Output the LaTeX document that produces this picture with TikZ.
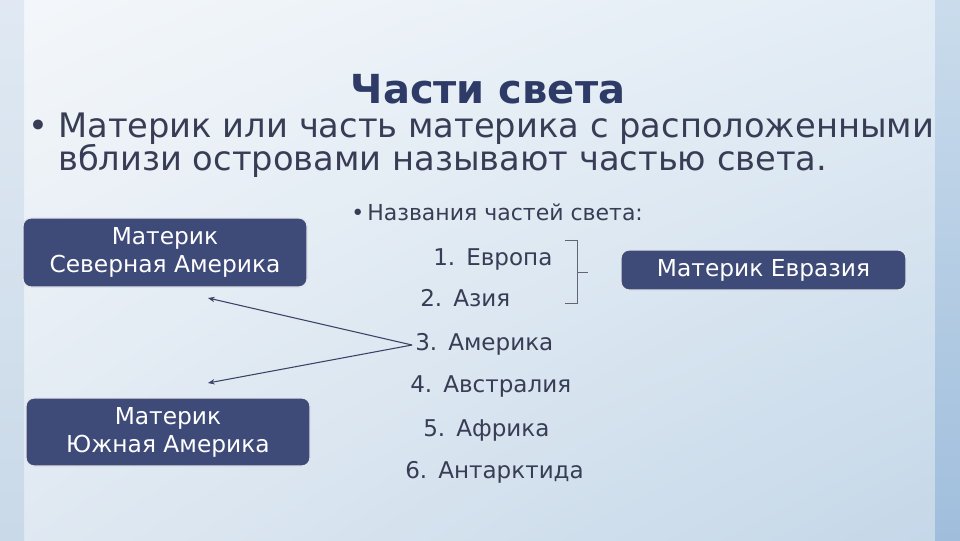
\documentclass[tikz,border=0pt]{standalone}
\usepackage{fontspec}
\setmainfont{DejaVu Sans}
\usetikzlibrary{arrows.meta,shadings}
\definecolor{txt}{HTML}{383D55}
\definecolor{ttl}{HTML}{2E3B66}
\definecolor{boxfill}{HTML}{3E4A78}
\definecolor{arr}{HTML}{3A4266}
\definecolor{bgul}{HTML}{F4F7FA}
\definecolor{bgur}{HTML}{E2ECF5}
\definecolor{bgll}{HTML}{E0E9F2}
\definecolor{bglr}{HTML}{C4D7E8}
\definecolor{lstt}{HTML}{E0E9F3}
\definecolor{lstb}{HTML}{C9D9E8}
\definecolor{rstt}{HTML}{CADCEC}
\definecolor{rstb}{HTML}{A0BEDC}
\tikzset{
  body/.style={anchor=base west, inner sep=0pt, text=txt, font=\fontsize{25.3}{25.3}\selectfont},
  sub/.style={anchor=base west, inner sep=0pt, text=txt, font=\fontsize{16.5}{16.5}\selectfont},
  item/.style={anchor=base west, inner sep=0pt, text=txt, font=\fontsize{17.3}{17.3}\selectfont},
  mbox/.style={draw=white!85!boxfill, line width=1pt, fill=boxfill, rounded corners=6pt, text=white, align=center, inner sep=0pt, font=\fontsize{17.5}{21}\selectfont},
  link/.style={draw=arr, line width=0.8pt, -{Stealth[length=5pt,width=4pt]}},
  brk/.style={draw=txt!80, line width=0.7pt}
}
\begin{document}
\begin{tikzpicture}[x=0.75pt,y=-0.75pt]
\useasboundingbox (0,0) rectangle (960,540);
% background
\shade[upper left=bgul, upper right=bgur, lower left=bgll, lower right=bglr] (0,0) rectangle (960,540);
\shade[top color=lstt, bottom color=lstb] (0,0) rectangle (24,540);
\shade[top color=rstt, bottom color=rstb] (935,0) rectangle (960,540);
% title
\node[anchor=base, inner sep=0pt, text=ttl, font=\bfseries\fontsize{30}{30}\selectfont] (title) at (488,103) {Части света};
% main text
\node[body] (b1) at (28,137) {•};
\node[body] (l1) at (58,137) {Материк или часть материка с расположенными};
\node[body] (l2) at (58,170) {вблизи островами называют частью света.};
% sub bullet
\node[sub] (b2) at (351,220) {•};
\node[sub] (s1) at (367,220) {Названия частей света:};
% list
\node[item] (n1) at (433,265) {1.}; \node[item] (i1) at (466,265) {Европа};
\node[item] (n2) at (420,306) {2.}; \node[item] (i2) at (453,306) {Азия};
\node[item] (n3) at (415,350) {3.}; \node[item] (i3) at (448,350) {Америка};
\node[item] (n4) at (410,392) {4.}; \node[item] (i4) at (443,392) {Австралия};
\node[item] (n5) at (423,436) {5.}; \node[item] (i5) at (456,436) {Африка};
\node[item] (n6) at (405,478) {6.}; \node[item] (i6) at (438,478) {Антарктида};
% boxes
\node[mbox, minimum width=284*0.75pt, minimum height=69*0.75pt] (na) at (165,252.5) {Материк\\Северная Америка};
\node[mbox, minimum width=284*0.75pt, minimum height=68*0.75pt] (sa) at (168,432) {Материк\\Южная Америка};
\node[mbox, minimum width=285*0.75pt, minimum height=40*0.75pt] (eu) at (763.5,270) {Материк Евразия};
% bracket
\coordinate (bt) at (565,240);
\coordinate (bb) at (565,303);
\coordinate (bm) at (588,272);
\draw[brk] (bt) -- ++(12,0) -- ++(0,63) -- (bb);
\draw[brk] (577,272) -- (bm);
% arrows
\coordinate (src) at (412,345);
\coordinate (ta) at (208,298);
\coordinate (tb) at (208,383);
\draw[link] (src) -- (ta);
\draw[link] (src) -- (tb);
\end{tikzpicture}
\end{document}
